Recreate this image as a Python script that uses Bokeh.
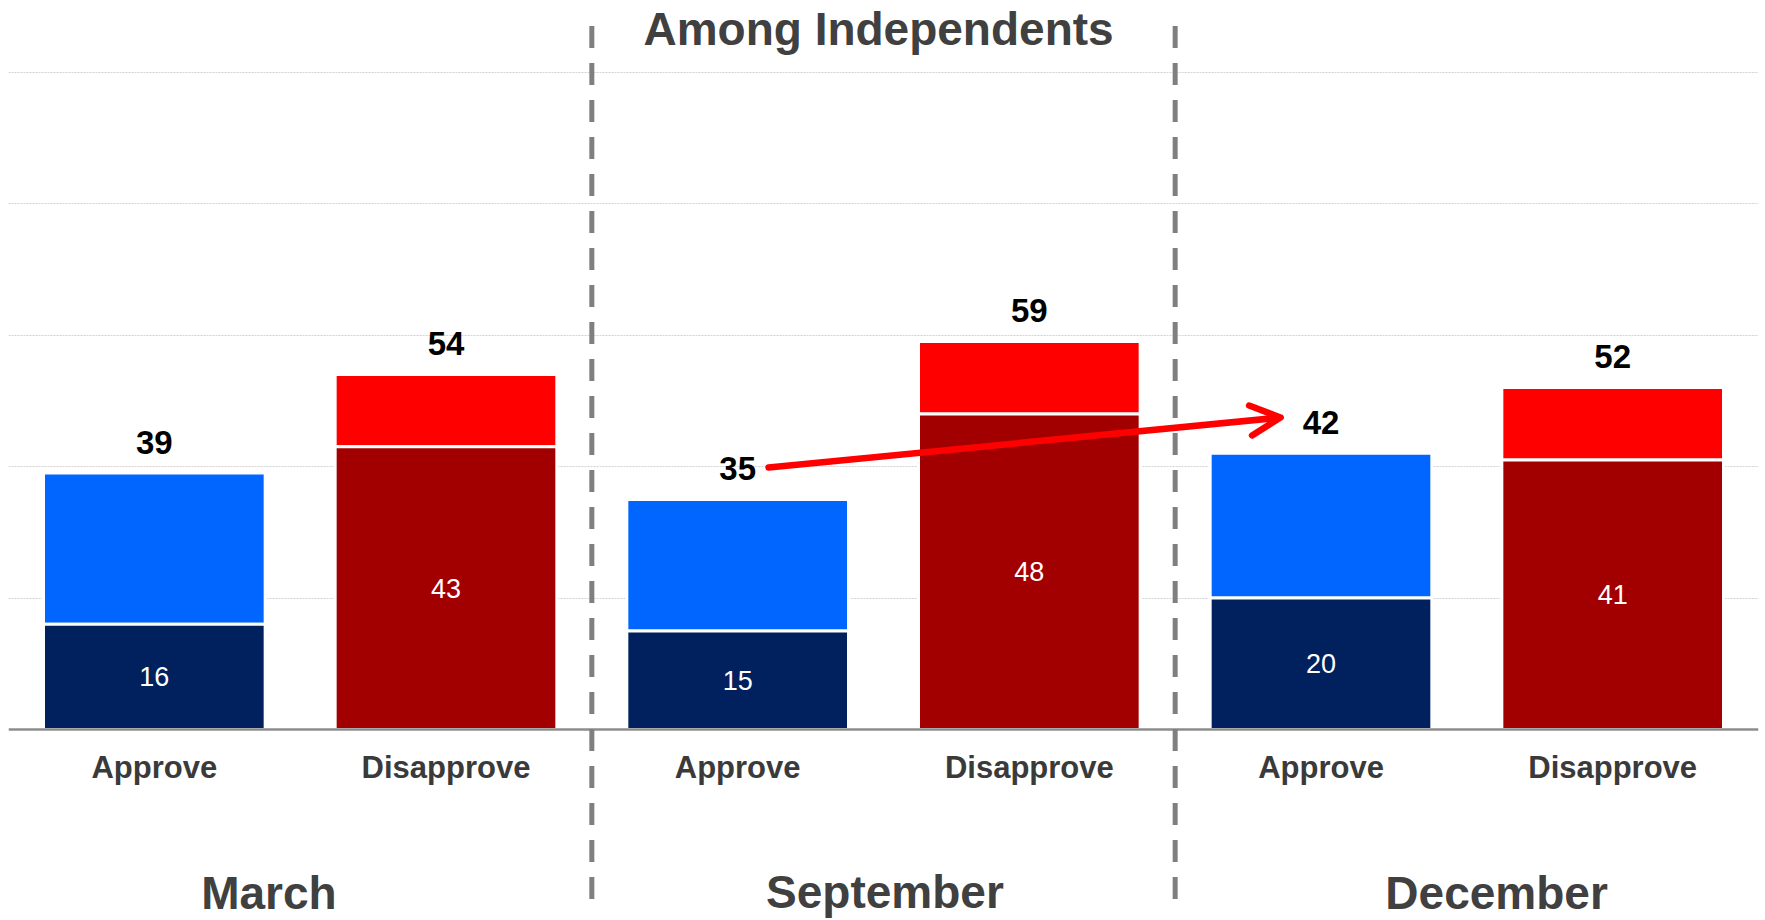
from bokeh.plotting import figure
from bokeh.models import Range1d, Grid, FixedTicker, Arrow, OpenHead, ColumnDataSource
from bokeh.core.properties import value
from bokeh.embed import file_html
from bokeh.resources import INLINE

# ---- data ----
months = ["March", "September", "December"]
responses = ["Approve", "Disapprove"]
approve_total = [39, 35, 42]
approve_strong = [16, 15, 20]
disapprove_total = [54, 59, 52]
disapprove_strong = [43, 48, 41]
grid_ticks = [20, 40, 60, 80, 100]
title_text = "Among Independents"

# ---- build bar table ----
xs, totals, strongs, cats, light_cols, dark_cols = [], [], [], [], [], []
for i in range(len(months)):
    for j, r in enumerate(responses):
        xs.append(2 * i + j)
        cats.append(r)
        if r == "Approve":
            totals.append(approve_total[i]); strongs.append(approve_strong[i])
            light_cols.append("#0066FF"); dark_cols.append("#00205E")
        else:
            totals.append(disapprove_total[i]); strongs.append(disapprove_strong[i])
            light_cols.append("#FF0000"); dark_cols.append("#A20000")

src = ColumnDataSource(dict(
    x=xs, total=totals, strong=strongs, cat=cats,
    light=light_cols, dark=dark_cols,
    mid=[s / 2 for s in strongs],
    total_lbl=[str(t) for t in totals],
    strong_lbl=[str(s) for s in strongs],
))

FONT = value("Liberation Sans")

p = figure(width=1765, height=920, x_range=Range1d(-0.5, 5.5), y_range=Range1d(-29.05, 110.88),
           output_backend="svg", toolbar_location=None, x_axis_type=None, y_axis_type=None,
           min_border_left=8, min_border_right=7, min_border_top=0, min_border_bottom=0)
p.outline_line_color = None
p.background_fill_color = "white"
p.border_fill_color = "white"

p.add_layout(Grid(dimension=1, ticker=FixedTicker(ticks=grid_ticks),
                  grid_line_color="#d2d2d2", grid_line_width=1, grid_line_dash="2 1"))

BAR_W = 0.76
p.vbar(x="x", bottom="strong", top="total", width=BAR_W, fill_color="light",
       line_color="white", line_width=3, source=src)
p.vbar(x="x", bottom=0, top="strong", width=BAR_W, fill_color="dark",
       line_color="white", line_width=3, source=src)

# baseline
p.hspan(y=[0], line_color="#8c8c8c", line_width=2.5)

# dashed separators between months
seps = [2 * i + 1.5 for i in range(len(months) - 1)]
p.segment(x0=seps, y0=[107.0] * len(seps), x1=seps, y1=[-26.8] * len(seps),
          line_color="#7f7f7f", line_width=5, line_dash="22 15")

# labels
p.text(x="x", y="total", text="total_lbl", source=src, text_font=FONT, text_font_style="bold",
       text_font_size="33px", text_color="black", text_align="center",
       text_baseline="middle", y_offset=-31)
p.text(x="x", y="mid", text="strong_lbl", source=src, text_font=FONT,
       text_font_size="27px", text_color="white", text_align="center",
       text_baseline="middle")
p.text(x="x", y=-5.8, text="cat", source=src, text_font=FONT,
       text_font_style="bold", text_font_size="31px", text_color="#3a3a3a",
       text_align="center", text_baseline="middle")

month_x = [0.393, 2.505, 4.602]
month_y = [-24.9, -24.7, -24.9]
p.text(x=month_x, y=month_y, text=months, text_font=FONT, text_font_style="bold",
       text_font_size="46px", text_color="#404040", text_align="center",
       text_baseline="middle")

p.text(x=[2.483], y=[106.6], text=[title_text], text_font=FONT, text_font_style="bold",
       text_font_size="46px", text_color="#404040", text_align="center", text_baseline="middle")

# arrow from September approve label to December approve label
p.add_layout(Arrow(
    end=OpenHead(size=30, line_color="red", line_width=6.5, line_cap="round", line_join="round"),
    x_start=2 + 0.106, y_start=approve_total[1] + 4.85,
    x_end=4 - 0.139, y_end=approve_total[2] + 5.45,
    line_color="red", line_width=6.5, line_cap="round"))

open("out.html", "w").write(file_html(p, INLINE))
